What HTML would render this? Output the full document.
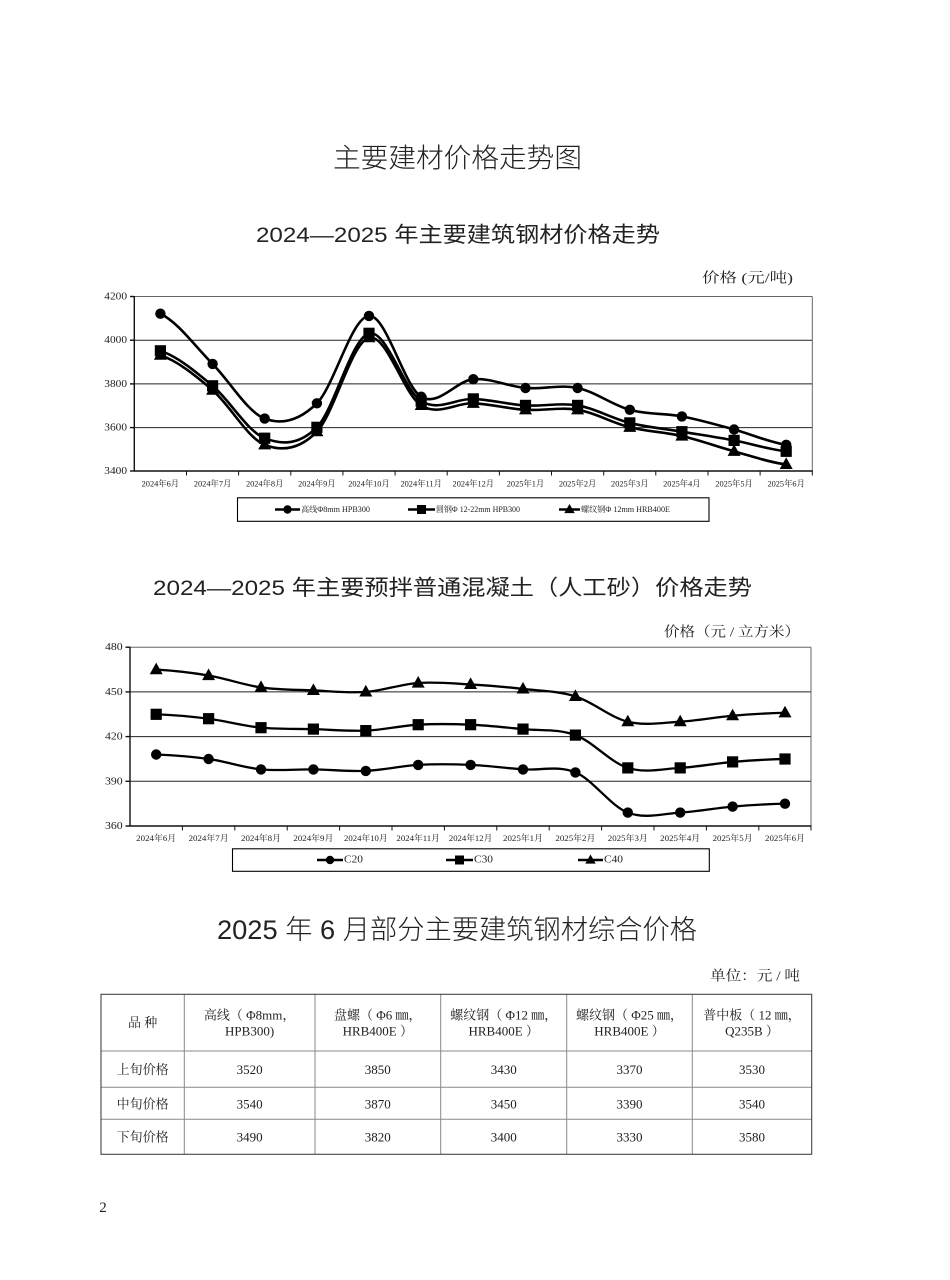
<!DOCTYPE html>
<html><head><meta charset="utf-8"><style>
html,body{margin:0;padding:0;background:#fff;}
svg{display:block;}
.t{font-family:"Liberation Sans","Noto Sans CJK SC",sans-serif;fill:#222;}
.s{font-family:"Liberation Serif","Noto Serif CJK SC",serif;fill:#222;}
</style></head><body>
<svg width="950" height="1280" viewBox="0 0 950 1280" xmlns="http://www.w3.org/2000/svg">
<defs>
<circle id="c" cx="0" cy="0" r="5.2"/>
<rect id="q" x="-5.6" y="-5.6" width="11.2" height="11.2"/>
<path id="t" d="M0,-7 L6.5,4.6 L-6.5,4.6Z"/>
<circle id="cs" cx="0" cy="0" r="4.2"/>
<rect id="qs" x="-4.5" y="-4.5" width="9" height="9"/>
<path id="ts" d="M0,-5.5 L5.2,3.6 L-5.2,3.6Z"/>
</defs>

<!-- Titles -->
<text class="t" x="457.5" y="158.5" font-size="27" font-weight="300" text-anchor="middle" dominant-baseline="central" textLength="249" lengthAdjust="spacingAndGlyphs" fill="#333">主要建材价格走势图</text>
<text class="t" x="458" y="235" font-size="21.5" text-anchor="middle" dominant-baseline="central" textLength="404" lengthAdjust="spacingAndGlyphs">2024—2025 年主要建筑钢材价格走势</text>

<!-- Chart 1 -->
<text class="s" x="702" y="279" font-size="14" dominant-baseline="central" textLength="91" lengthAdjust="spacingAndGlyphs" fill="#333">价格 (元/吨)</text>
<g stroke="#222" stroke-width="1" fill="none">
<line x1="134.3" y1="340.2" x2="812.3" y2="340.2"/>
<line x1="134.3" y1="383.9" x2="812.3" y2="383.9"/>
<line x1="134.3" y1="427.6" x2="812.3" y2="427.6"/>
</g>
<g stroke="#666" stroke-width="1" fill="none">
<line x1="134.3" y1="296.5" x2="812.3" y2="296.5"/>
<line x1="812.3" y1="296.5" x2="812.3" y2="471"/>
</g>
<g stroke="#111" stroke-width="1.4" fill="none">
<line x1="134.3" y1="296" x2="134.3" y2="471.5"/>
<line x1="134" y1="471" x2="812.8" y2="471"/>
<line x1="130" y1="296.5" x2="134.3" y2="296.5"/>
<line x1="130" y1="340.2" x2="134.3" y2="340.2"/>
<line x1="130" y1="383.9" x2="134.3" y2="383.9"/>
<line x1="130" y1="427.6" x2="134.3" y2="427.6"/>
<line x1="130" y1="471" x2="134.3" y2="471"/>
</g>
<g stroke="#111" stroke-width="1">
<line x1="186.5" y1="471" x2="186.5" y2="475.5"/><line x1="238.6" y1="471" x2="238.6" y2="475.5"/>
<line x1="290.8" y1="471" x2="290.8" y2="475.5"/><line x1="342.9" y1="471" x2="342.9" y2="475.5"/>
<line x1="395.1" y1="471" x2="395.1" y2="475.5"/><line x1="447.2" y1="471" x2="447.2" y2="475.5"/>
<line x1="499.4" y1="471" x2="499.4" y2="475.5"/><line x1="551.5" y1="471" x2="551.5" y2="475.5"/>
<line x1="603.7" y1="471" x2="603.7" y2="475.5"/><line x1="655.8" y1="471" x2="655.8" y2="475.5"/>
<line x1="708.0" y1="471" x2="708.0" y2="475.5"/><line x1="760.1" y1="471" x2="760.1" y2="475.5"/>
<line x1="812.3" y1="471" x2="812.3" y2="475.5"/>
</g>
<g class="s" font-size="11" text-anchor="end" dominant-baseline="central">
<text x="127" y="296.5" textLength="22.7" lengthAdjust="spacingAndGlyphs">4200</text>
<text x="127" y="340.2" textLength="22.7" lengthAdjust="spacingAndGlyphs">4000</text>
<text x="127" y="383.9" textLength="22.7" lengthAdjust="spacingAndGlyphs">3800</text>
<text x="127" y="427.6" textLength="22.7" lengthAdjust="spacingAndGlyphs">3600</text>
<text x="127" y="471" textLength="22.7" lengthAdjust="spacingAndGlyphs">3400</text>
</g>
<g class="s" font-size="8.5" text-anchor="middle" dominant-baseline="central">
<text x="160.4" y="483.5" textLength="37.5" lengthAdjust="spacingAndGlyphs">2024年6月</text>
<text x="212.6" y="483.5" textLength="37.5" lengthAdjust="spacingAndGlyphs">2024年7月</text>
<text x="264.7" y="483.5" textLength="37.5" lengthAdjust="spacingAndGlyphs">2024年8月</text>
<text x="316.9" y="483.5" textLength="37.5" lengthAdjust="spacingAndGlyphs">2024年9月</text>
<text x="369.0" y="483.5" textLength="41.5" lengthAdjust="spacingAndGlyphs">2024年10月</text>
<text x="421.2" y="483.5" textLength="41.5" lengthAdjust="spacingAndGlyphs">2024年11月</text>
<text x="473.3" y="483.5" textLength="41.5" lengthAdjust="spacingAndGlyphs">2024年12月</text>
<text x="525.5" y="483.5" textLength="37.5" lengthAdjust="spacingAndGlyphs">2025年1月</text>
<text x="577.6" y="483.5" textLength="37.5" lengthAdjust="spacingAndGlyphs">2025年2月</text>
<text x="629.8" y="483.5" textLength="37.5" lengthAdjust="spacingAndGlyphs">2025年3月</text>
<text x="681.9" y="483.5" textLength="37.5" lengthAdjust="spacingAndGlyphs">2025年4月</text>
<text x="734.1" y="483.5" textLength="37.5" lengthAdjust="spacingAndGlyphs">2025年5月</text>
<text x="786.2" y="483.5" textLength="37.5" lengthAdjust="spacingAndGlyphs">2025年6月</text>
</g>
<g transform="translate(160.4,471) scale(52.15,-0.2185)" fill="none" stroke="#000" stroke-width="2.6" stroke-linejoin="round">
<path vector-effect="non-scaling-stroke" d="M0 720 C.333 681.67 .667 570 1 490 C1.333 410 1.667 270 2 240 C2.333 210 2.667 231.67 3 310 C3.333 388.33 3.667 705 4 710 C4.333 715 4.667 388.33 5 340 C5.333 291.67 5.667 413.33 6 420 C6.333 426.67 6.667 386.67 7 380 C7.333 373.33 7.667 396.67 8 380 C8.333 363.33 8.667 301.67 9 280 C9.333 258.33 9.667 265 10 250 C10.333 235 10.667 211.67 11 190 C11.333 168.33 11.667 131.67 12 120"/>
<path vector-effect="non-scaling-stroke" d="M0 550 C.333 523.33 .667 456.67 1 390 C1.333 323.33 1.667 181.67 2 150 C2.333 118.33 2.667 120 3 200 C3.333 280 3.667 610 4 630 C4.333 650 4.667 370 5 320 C5.333 270 5.667 333.33 6 330 C6.333 326.67 6.667 305 7 300 C7.333 295 7.667 313.33 8 300 C8.333 286.67 8.667 240 9 220 C9.333 200 9.667 193.33 10 180 C10.333 166.67 10.667 155 11 140 C11.333 125 11.667 98.33 12 90"/>
<path vector-effect="non-scaling-stroke" d="M0 530 C.333 503.33 .667 438.33 1 370 C1.333 301.67 1.667 151.67 2 120 C2.333 88.33 2.667 98.33 3 180 C3.333 261.67 3.667 590 4 610 C4.333 630 4.667 350 5 300 C5.333 250 5.667 313.33 6 310 C6.333 306.67 6.667 285 7 280 C7.333 275 7.667 293.33 8 280 C8.333 266.67 8.667 220 9 200 C9.333 180 9.667 178.33 10 160 C10.333 141.67 10.667 111.67 11 90 C11.333 68.33 11.667 40 12 30"/>
</g>
<g fill="#000">
<use href="#c" x="160.4" y="313.7"/><use href="#c" x="212.6" y="363.9"/><use href="#c" x="264.7" y="418.6"/><use href="#c" x="316.9" y="403.3"/><use href="#c" x="369.0" y="315.9"/><use href="#c" x="421.2" y="396.7"/><use href="#c" x="473.3" y="379.2"/><use href="#c" x="525.5" y="388.0"/><use href="#c" x="577.6" y="388.0"/><use href="#c" x="629.8" y="409.8"/><use href="#c" x="681.9" y="416.4"/><use href="#c" x="734.1" y="429.5"/><use href="#c" x="786.2" y="444.8"/>
<use href="#q" x="160.4" y="350.8"/><use href="#q" x="212.6" y="385.8"/><use href="#q" x="264.7" y="438.2"/><use href="#q" x="316.9" y="427.3"/><use href="#q" x="369.0" y="333.3"/><use href="#q" x="421.2" y="401.1"/><use href="#q" x="473.3" y="398.9"/><use href="#q" x="525.5" y="405.4"/><use href="#q" x="577.6" y="405.4"/><use href="#q" x="629.8" y="422.9"/><use href="#q" x="681.9" y="431.7"/><use href="#q" x="734.1" y="440.4"/><use href="#q" x="786.2" y="451.3"/>
<use href="#t" x="160.4" y="355.2"/><use href="#t" x="212.6" y="390.2"/><use href="#t" x="264.7" y="444.8"/><use href="#t" x="316.9" y="431.7"/><use href="#t" x="369.0" y="337.7"/><use href="#t" x="421.2" y="405.4"/><use href="#t" x="473.3" y="403.3"/><use href="#t" x="525.5" y="409.8"/><use href="#t" x="577.6" y="409.8"/><use href="#t" x="629.8" y="427.3"/><use href="#t" x="681.9" y="436.0"/><use href="#t" x="734.1" y="451.3"/><use href="#t" x="786.2" y="464.4"/>
</g>
<!-- Legend 1 -->
<rect x="237.5" y="497.8" width="471.5" height="23.5" fill="#fff" stroke="#000" stroke-width="1.1"/>
<g stroke="#000" stroke-width="2.6">
<line x1="275" y1="509.5" x2="300" y2="509.5"/>
<line x1="408" y1="509.5" x2="435" y2="509.5"/>
<line x1="559" y1="509.5" x2="580" y2="509.5"/>
</g>
<g fill="#000">
<use href="#cs" x="287.5" y="509.5"/><use href="#qs" x="421.5" y="509.5"/><use href="#ts" x="569.5" y="509.5"/>
</g>
<g class="s" font-size="8" dominant-baseline="central">
<text x="301" y="509.5" textLength="69" lengthAdjust="spacingAndGlyphs">高线Φ8mm HPB300</text>
<text x="436" y="509.5" textLength="84" lengthAdjust="spacingAndGlyphs">圆钢Φ 12-22mm HPB300</text>
<text x="581" y="509.5" textLength="89" lengthAdjust="spacingAndGlyphs">螺纹钢Φ 12mm HRB400E</text>
</g>

<!-- Chart 2 -->
<text class="t" x="452.5" y="588" font-size="21.5" text-anchor="middle" dominant-baseline="central" textLength="599" lengthAdjust="spacingAndGlyphs">2024—2025 年主要预拌普通混凝土（人工砂）价格走势</text>
<text class="s" x="664" y="633" font-size="14" dominant-baseline="central" textLength="136" lengthAdjust="spacingAndGlyphs" fill="#333">价格（元 / 立方米）</text>
<g stroke="#222" stroke-width="1" fill="none">
<line x1="130" y1="691.9" x2="811" y2="691.9"/>
<line x1="130" y1="736.6" x2="811" y2="736.6"/>
<line x1="130" y1="781.3" x2="811" y2="781.3"/>
</g>
<g stroke="#666" stroke-width="1" fill="none">
<line x1="130" y1="647.2" x2="811" y2="647.2"/>
<line x1="811" y1="647.2" x2="811" y2="826"/>
</g>
<g stroke="#111" stroke-width="1.4" fill="none">
<line x1="130" y1="646.8" x2="130" y2="826.5"/>
<line x1="129.7" y1="826" x2="811.5" y2="826"/>
<line x1="125.5" y1="647.2" x2="130" y2="647.2"/>
<line x1="125.5" y1="691.9" x2="130" y2="691.9"/>
<line x1="125.5" y1="736.6" x2="130" y2="736.6"/>
<line x1="125.5" y1="781.3" x2="130" y2="781.3"/>
<line x1="125.5" y1="826" x2="130" y2="826"/>
</g>
<g stroke="#111" stroke-width="1">
<line x1="182.4" y1="826" x2="182.4" y2="830.5"/><line x1="234.8" y1="826" x2="234.8" y2="830.5"/>
<line x1="287.2" y1="826" x2="287.2" y2="830.5"/><line x1="339.6" y1="826" x2="339.6" y2="830.5"/>
<line x1="392.0" y1="826" x2="392.0" y2="830.5"/><line x1="444.4" y1="826" x2="444.4" y2="830.5"/>
<line x1="496.8" y1="826" x2="496.8" y2="830.5"/><line x1="549.2" y1="826" x2="549.2" y2="830.5"/>
<line x1="601.6" y1="826" x2="601.6" y2="830.5"/><line x1="654.0" y1="826" x2="654.0" y2="830.5"/>
<line x1="706.4" y1="826" x2="706.4" y2="830.5"/><line x1="758.8" y1="826" x2="758.8" y2="830.5"/>
<line x1="811" y1="826" x2="811" y2="830.5"/>
</g>
<g class="s" font-size="11" text-anchor="end" dominant-baseline="central">
<text x="122.7" y="647.2" textLength="17.7" lengthAdjust="spacingAndGlyphs">480</text>
<text x="122.7" y="691.9" textLength="17.7" lengthAdjust="spacingAndGlyphs">450</text>
<text x="122.7" y="736.6" textLength="17.7" lengthAdjust="spacingAndGlyphs">420</text>
<text x="122.7" y="781.3" textLength="17.7" lengthAdjust="spacingAndGlyphs">390</text>
<text x="122.7" y="826" textLength="17.7" lengthAdjust="spacingAndGlyphs">360</text>
</g>
<g class="s" font-size="8.5" text-anchor="middle" dominant-baseline="central">
<text x="156.2" y="838" textLength="40" lengthAdjust="spacingAndGlyphs">2024年6月</text>
<text x="208.6" y="838" textLength="40" lengthAdjust="spacingAndGlyphs">2024年7月</text>
<text x="261.0" y="838" textLength="40" lengthAdjust="spacingAndGlyphs">2024年8月</text>
<text x="313.4" y="838" textLength="40" lengthAdjust="spacingAndGlyphs">2024年9月</text>
<text x="365.8" y="838" textLength="43.5" lengthAdjust="spacingAndGlyphs">2024年10月</text>
<text x="418.2" y="838" textLength="43.5" lengthAdjust="spacingAndGlyphs">2024年11月</text>
<text x="470.6" y="838" textLength="43.5" lengthAdjust="spacingAndGlyphs">2024年12月</text>
<text x="523.0" y="838" textLength="40" lengthAdjust="spacingAndGlyphs">2025年1月</text>
<text x="575.4" y="838" textLength="40" lengthAdjust="spacingAndGlyphs">2025年2月</text>
<text x="627.8" y="838" textLength="40" lengthAdjust="spacingAndGlyphs">2025年3月</text>
<text x="680.2" y="838" textLength="40" lengthAdjust="spacingAndGlyphs">2025年4月</text>
<text x="732.6" y="838" textLength="40" lengthAdjust="spacingAndGlyphs">2025年5月</text>
<text x="785.0" y="838" textLength="40" lengthAdjust="spacingAndGlyphs">2025年6月</text>
</g>
<g transform="translate(156.2,826) scale(52.4,-1.49)" fill="none" stroke="#000" stroke-width="2.3" stroke-linejoin="round">
<path vector-effect="non-scaling-stroke" d="M0 105 C.333 104.33 .667 103 1 101 C1.333 99 1.667 94.67 2 93 C2.333 91.33 2.667 91.5 3 91 C3.333 90.5 3.667 89.17 4 90 C4.333 90.83 4.667 95.17 5 96 C5.333 96.83 5.667 95.67 6 95 C6.333 94.33 6.667 93.33 7 92 C7.333 90.67 7.667 90.67 8 87 C8.333 83.33 8.667 72.83 9 70 C9.333 67.17 9.667 69.33 10 70 C10.333 70.67 10.667 73 11 74 C11.333 75 11.667 75.67 12 76"/>
<path vector-effect="non-scaling-stroke" d="M0 75 C.333 74.5 .667 73.5 1 72 C1.333 70.5 1.667 67.17 2 66 C2.333 64.83 2.667 65.33 3 65 C3.333 64.67 3.667 63.5 4 64 C4.333 64.5 4.667 67.33 5 68 C5.333 68.67 5.667 68.5 6 68 C6.333 67.5 6.667 66.17 7 65 C7.333 63.83 7.667 65.33 8 61 C8.333 56.67 8.667 42.67 9 39 C9.333 35.33 9.667 38.33 10 39 C10.333 39.67 10.667 42 11 43 C11.333 44 11.667 44.67 12 45"/>
<path vector-effect="non-scaling-stroke" d="M0 48 C.333 47.5 .667 46.67 1 45 C1.333 43.33 1.667 39.17 2 38 C2.333 36.83 2.667 38.17 3 38 C3.333 37.83 3.667 36.5 4 37 C4.333 37.5 4.667 40.33 5 41 C5.333 41.67 5.667 41.5 6 41 C6.333 40.5 6.667 38.83 7 38 C7.333 37.17 7.667 40.83 8 36 C8.333 31.17 8.667 13.5 9 9 C9.333 4.5 9.667 8.33 10 9 C10.333 9.67 10.667 12 11 13 C11.333 14 11.667 14.67 12 15"/>
</g>
<g fill="#000">
<use href="#t" x="156.2" y="669.6"/><use href="#t" x="208.6" y="675.5"/><use href="#t" x="261.0" y="687.4"/><use href="#t" x="313.4" y="690.4"/><use href="#t" x="365.8" y="691.9"/><use href="#t" x="418.2" y="683.0"/><use href="#t" x="470.6" y="684.4"/><use href="#t" x="523.0" y="688.9"/><use href="#t" x="575.4" y="696.4"/><use href="#t" x="627.8" y="721.7"/><use href="#t" x="680.2" y="721.7"/><use href="#t" x="732.6" y="715.7"/><use href="#t" x="785.0" y="712.8"/>
<use href="#q" x="156.2" y="714.3"/><use href="#q" x="208.6" y="718.7"/><use href="#q" x="261.0" y="727.7"/><use href="#q" x="313.4" y="729.1"/><use href="#q" x="365.8" y="730.6"/><use href="#q" x="418.2" y="724.7"/><use href="#q" x="470.6" y="724.7"/><use href="#q" x="523.0" y="729.1"/><use href="#q" x="575.4" y="735.1"/><use href="#q" x="627.8" y="767.9"/><use href="#q" x="680.2" y="767.9"/><use href="#q" x="732.6" y="761.9"/><use href="#q" x="785.0" y="759.0"/>
<use href="#c" x="156.2" y="754.5"/><use href="#c" x="208.6" y="759.0"/><use href="#c" x="261.0" y="769.4"/><use href="#c" x="313.4" y="769.4"/><use href="#c" x="365.8" y="770.9"/><use href="#c" x="418.2" y="764.9"/><use href="#c" x="470.6" y="764.9"/><use href="#c" x="523.0" y="769.4"/><use href="#c" x="575.4" y="772.4"/><use href="#c" x="627.8" y="812.6"/><use href="#c" x="680.2" y="812.6"/><use href="#c" x="732.6" y="806.6"/><use href="#c" x="785.0" y="803.7"/>
</g>
<!-- Legend 2 -->
<rect x="232.5" y="848.8" width="476.8" height="22.5" fill="#fff" stroke="#000" stroke-width="1.1"/>
<g stroke="#000" stroke-width="2.6">
<line x1="317" y1="860" x2="343" y2="860"/>
<line x1="446" y1="860" x2="473" y2="860"/>
<line x1="578" y1="860" x2="603" y2="860"/>
</g>
<g fill="#000">
<use href="#cs" x="330" y="860"/><use href="#qs" x="459.5" y="860"/><use href="#ts" x="590.5" y="860"/>
</g>
<g class="s" font-size="10.5" dominant-baseline="central">
<text x="344" y="860" textLength="19" lengthAdjust="spacingAndGlyphs">C20</text>
<text x="474" y="860" textLength="19" lengthAdjust="spacingAndGlyphs">C30</text>
<text x="604" y="860" textLength="19" lengthAdjust="spacingAndGlyphs">C40</text>
</g>

<!-- Table -->
<text class="t" x="457" y="930" font-size="27" font-weight="300" text-anchor="middle" dominant-baseline="central" textLength="480" lengthAdjust="spacingAndGlyphs" fill="#333">2025 年 6 月部分主要建筑钢材综合价格</text>
<text class="s" x="710" y="977" font-size="14" dominant-baseline="central" textLength="90" lengthAdjust="spacingAndGlyphs" fill="#333">单位：元 / 吨</text>
<g stroke="#888" stroke-width="1" fill="none">
<line x1="101" y1="1051" x2="812" y2="1051"/>
<line x1="101" y1="1087.3" x2="812" y2="1087.3"/>
<line x1="101" y1="1119.3" x2="812" y2="1119.3"/>
<line x1="184.3" y1="994.3" x2="184.3" y2="1154.3"/>
<line x1="315" y1="994.3" x2="315" y2="1154.3"/>
<line x1="440.7" y1="994.3" x2="440.7" y2="1154.3"/>
<line x1="566.7" y1="994.3" x2="566.7" y2="1154.3"/>
<line x1="692.3" y1="994.3" x2="692.3" y2="1154.3"/>
</g>
<rect x="101" y="994.3" width="710.7" height="160" fill="none" stroke="#444" stroke-width="1.1"/>
<g class="s" font-size="13" text-anchor="middle" dominant-baseline="central" fill="#333">
<text x="142.6" y="1022.5">品 种</text>
<text x="249.6" y="1015">高线（ Φ8mm，</text>
<text x="249.6" y="1031">HPB300)</text>
<text x="377.8" y="1015">盘螺（ Φ6 ㎜，</text>
<text x="377.8" y="1031">HRB400E ）</text>
<text x="503.7" y="1015">螺纹钢（ Φ12 ㎜，</text>
<text x="503.7" y="1031">HRB400E ）</text>
<text x="629.5" y="1015">螺纹钢（ Φ25 ㎜，</text>
<text x="629.5" y="1031">HRB400E ）</text>
<text x="752" y="1015">普中板（ 12 ㎜，</text>
<text x="752" y="1031">Q235B ）</text>
<text x="142.6" y="1069.5">上旬价格</text>
<text x="142.6" y="1104">中旬价格</text>
<text x="142.6" y="1137">下旬价格</text>
<text x="249.6" y="1069.5">3520</text><text x="377.8" y="1069.5">3850</text><text x="503.7" y="1069.5">3430</text><text x="629.5" y="1069.5">3370</text><text x="752" y="1069.5">3530</text>
<text x="249.6" y="1104">3540</text><text x="377.8" y="1104">3870</text><text x="503.7" y="1104">3450</text><text x="629.5" y="1104">3390</text><text x="752" y="1104">3540</text>
<text x="249.6" y="1137">3490</text><text x="377.8" y="1137">3820</text><text x="503.7" y="1137">3400</text><text x="629.5" y="1137">3330</text><text x="752" y="1137">3580</text>
</g>
<text class="s" x="103" y="1208" font-size="15" text-anchor="middle" dominant-baseline="central" fill="#333">2</text>
</svg>
</body></html>
